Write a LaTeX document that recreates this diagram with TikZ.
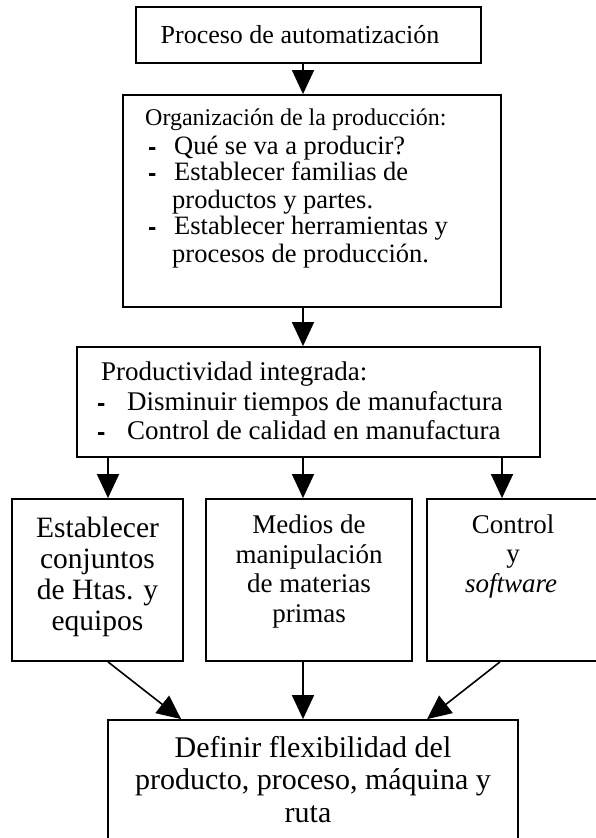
\documentclass[tikz,border=0pt]{standalone}
\usepackage{fontspec}
\setmainfont{Liberation Serif}
\newfontfamily\bulletfont{Liberation Sans}
\usetikzlibrary{arrows.meta,calc}
\begin{document}
\begin{tikzpicture}[x=1pt,y=-1pt,
  box/.style={draw, line width=1.8pt, inner sep=0pt},
  arr/.style={line width=1.6pt, -{Triangle[length=24pt,width=22pt]}},
  txt/.style={inner sep=0pt},
  fa/.style={txt, font=\fontsize{26}{30}\selectfont},
  fh/.style={txt, font=\fontsize{24}{28}\selectfont},
  fb/.style={txt, font=\fontsize{26.5}{30}\selectfont},
  fc/.style={txt, font=\fontsize{27}{30}\selectfont},
  fd/.style={txt, font=\fontsize{29.5}{32}\selectfont},
  fe/.style={txt, font=\fontsize{30}{33}\selectfont},
  bul/.style={txt, font=\bulletfont\fontsize{25}{30}\selectfont\bfseries}
]
\useasboundingbox (0,0) rectangle (595,838);

% boxes
\node[box, minimum width=345pt, minimum height=56pt] (b1) at (308.5,35) {};
\node[box, minimum width=378pt, minimum height=212pt] (b2) at (312,201) {};
\node[box, minimum width=463pt, minimum height=110pt] (b3) at (308.5,402) {};
\node[box, minimum width=171pt, minimum height=162pt] (b4) at (97.5,580) {};
\node[box, minimum width=206pt, minimum height=162pt] (b5) at (309,580) {};
\node[box, minimum width=173pt, minimum height=162pt] (b6) at (513.5,580) {};
\node[box, minimum width=410pt, minimum height=130pt] (b7) at (313,785) {};

% box 1 text
\node[fa, anchor=base] (t1) at (300,43) {Proceso de automatización};

% box 2 text
\node[fh, anchor=base west] (t2h) at (145,125.5) {Organización de la producción:};
\node[bul, anchor=base west] (t2d1) at (148,155.5) {-};
\node[fb, anchor=base west] (t2a) at (174,154) {Qué se va a producir?};
\node[bul, anchor=base west] (t2d2) at (148,181.5) {-};
\node[fb, anchor=base west] (t2b) at (174,180) {Establecer familias de};
\node[fb, anchor=base west] (t2c) at (172,208) {productos y partes.};
\node[bul, anchor=base west] (t2d3) at (148,235.5) {-};
\node[fb, anchor=base west] (t2e) at (174,234) {Establecer herramientas y};
\node[fb, anchor=base west] (t2f) at (172,262) {procesos de producción.};

% box 3 text
\node[fc, anchor=base west] (t3h) at (101,380) {Productividad integrada:};
\node[bul, anchor=base west] (t3d1) at (97,411.5) {-};
\node[fc, anchor=base west] (t3a) at (127,410) {Disminuir tiempos de manufactura};
\node[bul, anchor=base west] (t3d2) at (97,440.5) {-};
\node[fc, anchor=base west] (t3b) at (127,439) {Control de calidad en manufactura};

% box 4 text
\node[fd, anchor=base] (t4a) at (97.5,537) {Establecer};
\node[fd, anchor=base] (t4b) at (97.5,568) {conjuntos};
\node[fd, anchor=base] (t4c) at (97.5,599) {de Htas. y};
\node[fd, anchor=base] (t4d) at (97.5,630) {equipos};

% box 5 text
\node[fc, anchor=base] (t5a) at (309,533) {Medios de};
\node[fc, anchor=base] (t5b) at (309,563) {manipulación};
\node[fc, anchor=base] (t5c) at (309,592) {de materias};
\node[fc, anchor=base] (t5d) at (309,622) {primas};

% box 6 text
\node[fc, anchor=base] (t6a) at (513,533) {Control};
\node[fc, anchor=base] (t6b) at (513,562) {y};
\node[fc, anchor=base] (t6c) at (511,592) {\itshape software};

% box 7 text
\node[fe, anchor=base] (t7a) at (313,757) {Definir flexibilidad del};
\node[fe, anchor=base] (t7b) at (313,789) {producto, proceso, máquina y};
\node[fe, anchor=base] (t7c) at (308,822) {ruta};

% arrows
\draw[arr] ($(b1.south)+(-5.5,0)$) -- ($(b2.north)+(-9,0)$);
\draw[arr] ($(b2.south)+(-9,0)$) -- ($(b3.north)+(-5.5,0)$);
\coordinate (p1) at ($(b4.north)+(10.5,0)$);
\coordinate (p2) at ($(b5.north)+(-6,0)$);
\coordinate (p3) at ($(b6.north)+(-11.5,0)$);
\draw[arr] (p1 |- b3.south) -- (p1);
\draw[arr] (p2 |- b3.south) -- (p2);
\draw[arr] (p3 |- b3.south) -- (p3);
\draw[arr] ($(b4.south)+(10.5,0)$) -- ($(b7.north west)+(74,0)$);
\draw[arr] ($(b5.south)+(-6,0)$) -- ($(b7.north)+(-10,0)$);
\draw[arr] ($(b6.south)+(-13.5,0)$) -- ($(b7.north west)+(320,0)$);
\end{tikzpicture}
\end{document}
